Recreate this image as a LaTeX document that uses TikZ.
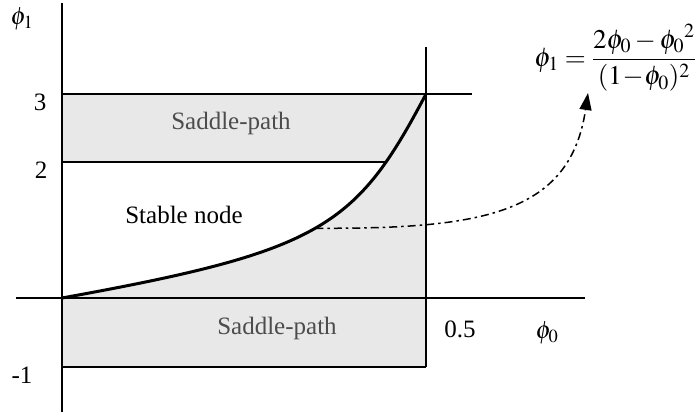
\documentclass[tikz,border=0pt]{standalone}
\usepackage{mathptmx}
\usepackage[no-math]{fontspec}
\setmainfont{Liberation Serif}
\usetikzlibrary{arrows.meta}
\begin{document}
\begin{tikzpicture}[x=1pt,y=-1pt,
  axis/.style={line width=1.4pt},
  thickline/.style={line width=2.8pt},
  curvestyle/.style={line width=3pt},
  shadefill/.style={fill=black!9},
  lbl/.style={inner sep=0pt,font=\fontsize{25}{30}\selectfont},
  graylbl/.style={lbl,text=black!70},
  dashdot/.style={line width=1.5pt,dash pattern=on 8pt off 4pt on 2.5pt off 4pt,
    -{Triangle[length=17pt,width=12pt]}}]
\useasboundingbox (0,0) rectangle (699,414);
% shading
\fill[shadefill] (62,94) rectangle (426,162);
\fill[shadefill] (62,298) .. controls (322,251) and (356,227) .. (426,94) -- (426,298) -- cycle;
\fill[shadefill] (62,298) rectangle (426,367);
% coordinates
\coordinate (vtop) at (62,3);
\coordinate (vbot) at (62,412);
\coordinate (hl) at (16,298);
\coordinate (hr) at (585,298);
\coordinate (t1) at (62,94);
\coordinate (t2) at (472,94);
\coordinate (r1) at (426,47);
\coordinate (r2) at (426,367);
\coordinate (m1) at (62,162);
\coordinate (m2) at (386,162);
\coordinate (b1) at (62,367);
\coordinate (o) at (62,298);
\coordinate (c3) at (426,94);
\coordinate (tip) at (588,93);
% lines
\draw[axis] (vtop) -- (vbot);
\draw[axis] (hl) -- (hr);
\draw[axis] (t1) -- (t2);
\draw[axis] (r1) -- (r2);
\draw[axis] (b1) -- (r2);
\draw[thickline] (m1) -- (m2);
\draw[curvestyle,line cap=round] (o) .. controls (322,251) and (356,227) .. coordinate[pos=0.5] (cp) (c3);
% labels
\node[lbl] (phi1) at (22,19) {$\phi_1$};
\node[lbl] (l3) at (40,102) {3};
\node[lbl] (l2) at (41,170) {2};
\node[lbl] (lm1) at (22,375) {-1};
\node[lbl] (l05) at (460,329) {0.5};
\node[lbl] (phi0) at (547,333) {$\phi_0$};
\node[graylbl] (sp1) at (231,123) {Saddle-path};
\node[graylbl] (sp2) at (277,328) {Saddle-path};
\node[lbl] (sn) at (184,215) {Stable node};
\node[inner sep=0pt,anchor=east,font=\fontsize{27}{32}\selectfont] (formula) at (696,58)
  {$\displaystyle \phi_1 = \frac{2\phi_0 - {\phi_0}^{2}}{(1 \!-\! \phi_0)^{2}}$};
% arrow
\draw[dashdot] (cp) .. controls (480,229) and (570,215) .. (tip);
\end{tikzpicture}
\end{document}
